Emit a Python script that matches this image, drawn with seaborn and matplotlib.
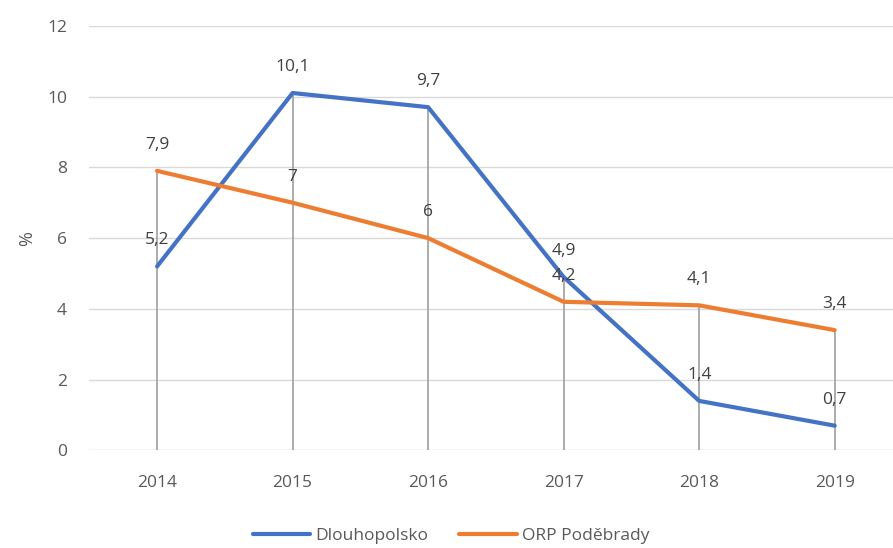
import numpy as np
import pandas as pd
import matplotlib.pyplot as plt
import seaborn as sns

years = ["2014", "2015", "2016", "2017", "2018", "2019"]
dlouhopolsko = [5.2, 10.1, 9.7, 4.9, 1.4, 0.7]
orp_podebrady = [7.9, 7.0, 6.0, 4.2, 4.1, 3.4]
series_names = ["Dlouhopolsko", "ORP Poděbrady"]
colors = ["#4472c4", "#ed7d31"]

df = pd.DataFrame({
    "rok": years * 2,
    "hodnota": dlouhopolsko + orp_podebrady,
    "serie": [series_names[0]] * 6 + [series_names[1]] * 6,
})

sns.set_style("white")
plt.rcParams['font.family'] = ['Open Sans', 'DejaVu Sans']
txt = "#595959"

fig = plt.figure(figsize=(8.93, 5.48), dpi=100)
ax = fig.add_axes([0.1, 0.178, 0.9, 0.775])

# gridlines
for y in range(2, 13, 2):
    ax.axhline(y, color="#d9d9d9", lw=1, zorder=0)
ax.axhline(0, color="#d9d9d9", lw=1, zorder=0)

# drop lines
x = np.arange(len(years))
tops = np.maximum(dlouhopolsko, orp_podebrady)
ax.vlines(x, 0, tops, color="#a6a6a6", lw=1.3, zorder=1)

sns.lineplot(data=df, x="rok", y="hodnota", hue="serie", palette=colors,
             lw=3, ax=ax, sort=False, zorder=3)

def fmt(v):
    s = f"{v:.1f}".replace(".", ",")
    return s[:-2] if s.endswith(",0") else s

for vals in (dlouhopolsko, orp_podebrady):
    for i, v in enumerate(vals):
        ax.annotate(fmt(v), (i, v), xytext=(0, 13), textcoords="offset points",
                    ha="center", va="bottom", fontsize=12.5, color="#404040", zorder=4)

ax.set_ylim(0, 12)
ax.set_xlim(-0.5, 5.43)
ax.set_yticks(range(0, 13, 2))
ax.tick_params(axis="both", length=0, labelsize=12.5, labelcolor=txt)
ax.tick_params(axis="x", pad=18)
ax.tick_params(axis="y", pad=16)
ax.set_xlabel("")
ax.set_ylabel("%", color=txt, fontsize=13, labelpad=8)
for s in ax.spines.values():
    s.set_visible(False)

ax.legend(handles=ax.get_legend_handles_labels()[0], labels=series_names,
          loc="upper center", bbox_to_anchor=(0.45, -0.145), ncol=2, frameon=False,
          fontsize=12.5, labelcolor=txt, handlelength=3.3, columnspacing=1.8, handletextpad=0.3)

fig.savefig("out.png", dpi=100)
